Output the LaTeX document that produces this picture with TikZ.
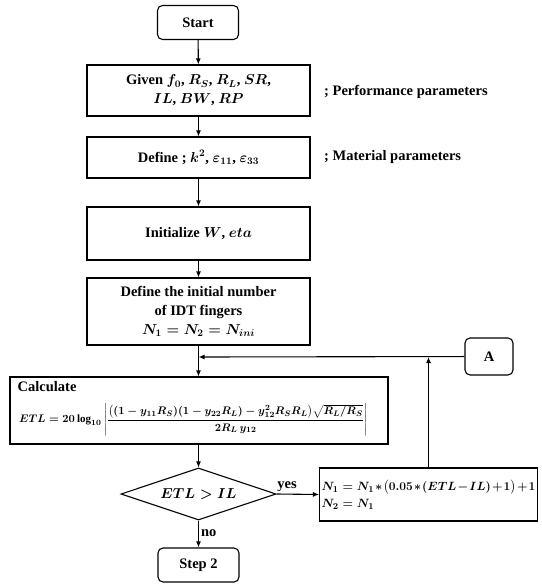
\documentclass[tikz,border=0pt]{standalone}
\usepackage{amsmath}
\usepackage{fontspec}
\setmainfont{Liberation Serif}
\usetikzlibrary{arrows.meta,shapes.geometric,calc}

\begin{document}
\begin{tikzpicture}[
  x=1pt, y=-1pt,
  >={Latex[length=6pt,width=5pt]},
  every node/.style={font=\fontsize{14.5}{19}\selectfont\bfseries\boldmath, inner sep=2pt},
  procbox/.style={draw, line width=1.1pt, align=center, minimum width=223pt},
  termbox/.style={draw, line width=1.1pt, rounded corners=5pt, minimum width=81pt, minimum height=34pt},
  decbox/.style={draw, line width=1.1pt, diamond, aspect=3, minimum width=155pt, minimum height=52pt, inner sep=0pt},
  note/.style={anchor=west},
  flow/.style={draw, line width=1.1pt, ->}
]
\useasboundingbox (0,0) rectangle (541,588);

% main column
\node[termbox] (start) at (198,22.5) {Start};
\node[procbox, minimum height=51pt] (given) at (198.5,90.5) {Given $f_0$, $R_S$, $R_L$, $SR$,\\ $IL$, $BW$, $RP$};
\node[note] (perf) at (322,92) {; Performance parameters};
\node[procbox, minimum height=41pt] (define) at (198.5,157.5) {Define ; $k^2$, $\varepsilon_{11}$, $\varepsilon_{33}$};
\node[note] (mat) at (322,157) {; Material parameters};
\node[procbox, minimum height=53pt] (init) at (198.5,233.5) {Initialize $W$, $eta$};
\node[procbox, minimum height=67pt] (idt) at (198.5,311.5) {Define the initial number\\ of IDT fingers\\ $N_1 = N_2 = N_{ini}$};
\node[termbox, minimum width=48pt, minimum height=37pt] (A) at (489,356.5) {A};
\coordinate (join) at (198.5,357);

% calculation box
\node[draw, line width=1.1pt, minimum width=378pt, minimum height=67pt] (calc) at (199,410.5) {};
\node[anchor=north west] (calclab) at ([shift={(6,3)}]calc.north west) {Calculate};
\node[anchor=west, font=\fontsize{11}{13}\selectfont\bfseries\boldmath] (etl) at (17,420)
  {$ETL = 20\log_{10}\left|\dfrac{\bigl((1-y_{11}R_S)(1-y_{22}R_L)-y_{12}^{2}R_SR_L\bigr)\sqrt{R_L/R_S}}{2R_L\,y_{12}}\right|$};

\node[decbox] (test) at (198.5,494) {$ETL > IL$};
\node[draw, line width=1.1pt, align=left, text width=214pt, minimum height=53pt,
  font=\fontsize{13}{17}\selectfont\bfseries\boldmath] (upd) at (428.5,494.5)
  {$N_1 = N_1 \ast \bigl(0.05 \ast (ETL - IL) + 1\bigr) + 1$\\ $N_2 = N_1$};
\node[termbox] (step2) at (198.5,565) {Step 2};

% connectors
\draw[flow] (start) -- (given);
\draw[flow] (given) -- (define);
\draw[flow] (define) -- (init);
\draw[flow] (init) -- (idt);
\draw[flow] (idt.south) -- (idt.south |- calc.north);
\draw[flow] (A) -- (join);
\draw[flow] (upd.north) -- (upd.north |- join);
\draw[flow] (test.north |- calc.south) -- (test.north);
\draw[flow] (test.east) -- node[above, pos=0.25] (yeslab) {yes} (upd.west);
\draw[flow] (test.south) -- node[right, pos=0.45] (nolab) {no} (step2.north);
\end{tikzpicture}
\end{document}
